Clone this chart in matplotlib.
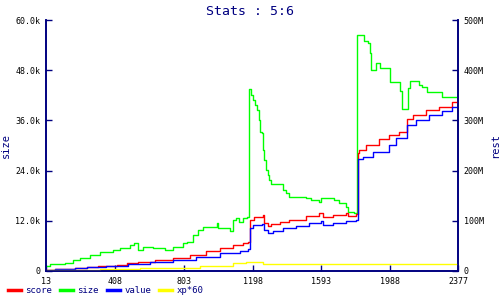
import matplotlib
matplotlib.use("Agg")
import matplotlib.pyplot as plt

# size (left axis, thousands)
size_x = [13, 36, 122, 168, 208, 265, 322, 397, 437, 494, 517, 540, 568, 626, 694, 740,
          797, 820, 855, 883, 912, 992, 998, 1066, 1084, 1106, 1123, 1141, 1169,
          1177, 1192, 1203, 1215, 1226, 1234, 1242, 1253, 1257, 1266, 1276, 1285, 1295,
          1305, 1371, 1390, 1410, 1505, 1534, 1581, 1591, 1667, 1696, 1734, 1745, 1782,
          1795, 1839, 1858, 1872, 1878, 1906, 1929, 1986, 2044, 2053, 2091, 2101, 2154,
          2170, 2201, 2283, 2377]
size_k = [1.2, 1.7, 2.0, 2.6, 3.1, 3.8, 4.6, 5.0, 5.5, 6.2, 6.8, 5.0, 5.8, 5.6, 5.0, 5.8,
          6.6, 7.0, 8.6, 9.8, 10.6, 11.5, 10.2, 9.6, 12.2, 12.6, 11.8, 12.6, 13.0,
          43.4, 42.1, 40.9, 39.7, 38.5, 36.1, 33.3, 33.0, 28.9, 26.5, 24.1, 22.9, 21.8,
          20.8, 19.4, 18.6, 17.8, 17.4, 17.0, 16.6, 17.4, 17.0, 16.3, 15.4, 14.2, 13.8,
          56.3, 55.0, 54.4, 52.0, 48.0, 49.8, 48.5, 45.3, 43.1, 38.7, 43.7, 45.5, 44.5,
          44.1, 42.9, 41.7, 41.7]

# rest (right axis, millions)
score_x = [13, 65, 179, 246, 312, 418, 475, 541, 637, 742, 837, 933, 1009, 1085, 1142, 1171,
           1181, 1209, 1257, 1261, 1286, 1305, 1353, 1410, 1505, 1581, 1600, 1658, 1734,
           1745, 1792, 1801, 1810, 1849, 1925, 1982, 2040, 2087, 2116, 2192, 2268, 2345, 2377]
score_m = [2.0, 3.4, 5.4, 7.4, 10.0, 11.9, 15.3, 18.5, 21.9, 26.5, 31.9, 39.8, 45.4, 51.2, 55.0, 57.8,
           101.6, 107.0, 111.6, 96.2, 89.6, 93.6, 98.2, 101.6, 109.6, 114.9, 107.0, 111.6, 114.9,
           110.0, 113.5, 235.7, 241.0, 251.0, 263.0, 271.0, 277.0, 302.0, 311.0, 321.0, 327.0, 337.0, 346.0]

value_x = [13, 65, 179, 246, 360, 484, 608, 742, 876, 1009, 1124, 1171, 1181, 1200, 1253, 1261,
           1286, 1314, 1371, 1448, 1524, 1591, 1600, 1658, 1734, 1792, 1801, 1830, 1887, 1982,
           2021, 2087, 2134, 2211, 2287, 2345, 2377]
value_m = [2.0, 3.4, 5.4, 7.4, 10.0, 13.9, 18.5, 21.9, 28.5, 36.5, 40.4, 43.2, 85.1, 91.6, 93.6, 81.7,
           76.3, 79.7, 85.1, 89.6, 95.0, 100.2, 91.6, 95.0, 100.2, 101.6, 223.0, 227.7, 237.6, 251.0,
           264.0, 291.0, 301.0, 311.0, 319.0, 327.0, 333.0]

xp_x = [13, 322, 551, 742, 895, 1085, 1162, 1257, 1734, 2377]
xp_m = [2.0, 3.4, 5.4, 6.6, 10.0, 15.3, 17.9, 14.5, 13.3, 13.3]

x_ticks = [13, 408, 803, 1198, 1593, 1988, 2377]
left_ticks = [0, 12, 24, 36, 48, 60]
left_labels = ["0", "12.0k", "24.0k", "36.0k", "48.0k", "60.0k"]
right_ticks = [0, 100, 200, 300, 400, 500]
right_labels = ["0", "100M", "200M", "300M", "400M", "500M"]

navy = "#000080"
mono = "DejaVu Sans Mono"

fig = plt.figure(figsize=(5, 3), dpi=100)
ax = fig.add_axes([0.092, 0.0967, 0.824, 0.8366])
ax2 = ax.twinx()

l_size, = ax.plot(size_x, size_k, drawstyle="steps-post", color="#00ff00", lw=1.0, label="size")
l_score, = ax2.plot(score_x, score_m, drawstyle="steps-post", color="#ff0000", lw=1.0, label="score")
l_value, = ax2.plot(value_x, value_m, drawstyle="steps-post", color="#0000ff", lw=1.0, label="value")
l_xp, = ax2.plot(xp_x, xp_m, drawstyle="steps-post", color="#ffff00", lw=1.0, label="xp*60")

ax.set_xlim(13, 2377)
ax.set_ylim(0, 60)
ax2.set_ylim(0, 500)

ax.set_xticks(x_ticks)
ax.set_xticklabels([str(v) for v in x_ticks], fontsize=6, family=mono)
ax.set_yticks(left_ticks)
ax.set_yticklabels(left_labels, fontsize=6, family=mono)
ax2.set_yticks(right_ticks)
ax2.set_yticklabels(right_labels, fontsize=6, family=mono)

for a in (ax, ax2):
    a.tick_params(direction="in", length=4, width=1, color=navy, pad=4)
    for s in ("left", "right", "bottom"):
        a.spines[s].set_color(navy)
        a.spines[s].set_linewidth(1.2)
    a.spines["top"].set_visible(False)

ax.set_ylabel("size", color=navy, fontsize=7.5, family=mono)
ax.yaxis.set_label_coords(-0.085, 0.5)
ax2.set_ylabel("rest", color=navy, fontsize=7.5, family=mono, rotation=90)
ax2.yaxis.set_label_coords(1.078, 0.5)
fig.text(0.5, 0.963, "Stats : 5:6", color=navy, fontsize=9.5, family=mono,
         ha="center", va="center")

leg = fig.legend(handles=[l_score, l_size, l_value, l_xp], loc="lower left",
                 bbox_to_anchor=(0.0, -0.01), ncol=4, frameon=False,
                 prop={"family": mono, "size": 6.5}, labelcolor=navy,
                 handlelength=1.4, handletextpad=0.5, columnspacing=0.9)
for ln in leg.get_lines():
    ln.set_linewidth(2.5)

fig.savefig("out.png", dpi=100)
